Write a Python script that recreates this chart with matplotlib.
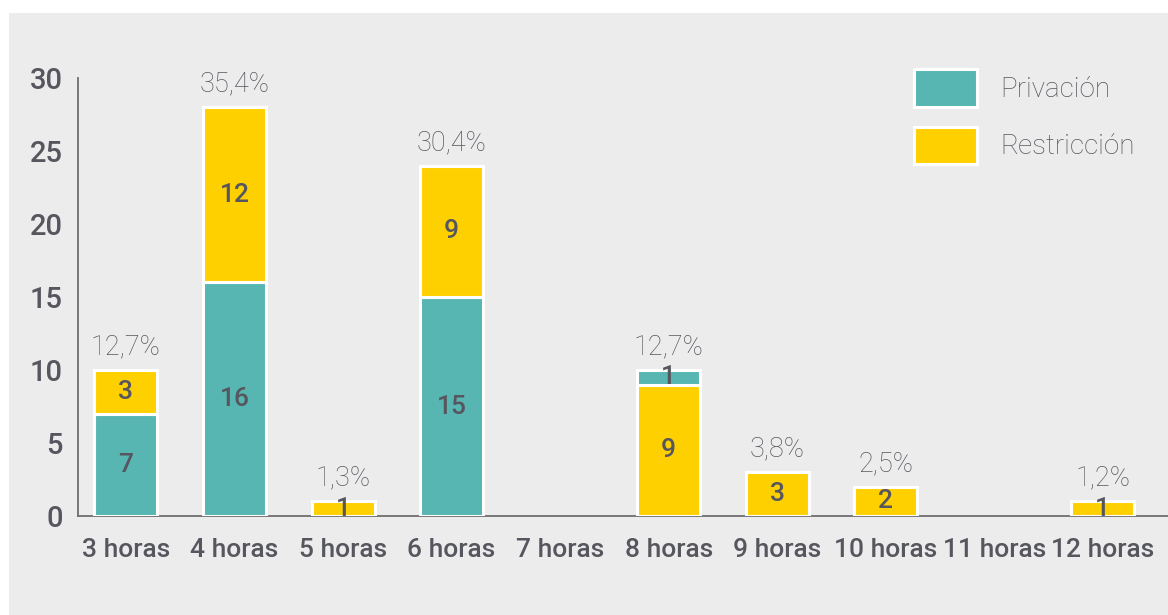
import matplotlib
matplotlib.use("Agg")
import matplotlib.pyplot as plt
from matplotlib.patches import Rectangle, Patch
import numpy as np

categorias = ['3 horas', '4 horas', '5 horas', '6 horas', '7 horas',
              '8 horas', '9 horas', '10 horas', '11 horas', '12 horas']
privacion = [7, 16, 0, 15, 0, 1, 0, 0, 0, 0]
restriccion = [3, 12, 1, 9, 0, 9, 3, 2, 0, 1]
porcentajes = ['12,7%', '35,4%', '1,3%', '30,4%', '', '12,7%', '3,8%', '2,5%', '', '1,2%']
# orden de apilado: True si Restricción va abajo
restriccion_abajo = [False, False, False, False, False, True, False, False, False, False]
yticks = [0, 5, 10, 15, 20, 25, 30]

C_PRIV = '#57B6B1'
C_REST = '#FFD000'
C_TXT = '#56565E'
BG = '#ECECEC'

plt.rcParams['font.family'] = ['Roboto', 'DejaVu Sans']

fig = plt.figure(figsize=(11.68, 6.15), dpi=100)
fig.patch.set_facecolor('white')
fig.add_artist(Rectangle((9/1168, 0), 1 - 9/1168, 1 - 13/615,
                         transform=fig.transFigure, facecolor=BG, edgecolor='none', zorder=0))

ax = fig.add_axes([78/1168, 1 - 516/615, 1 - 78/1168, (516 - 78)/615])
ax.set_facecolor('none')

x = np.arange(len(categorias))
w = 0.58
for i in range(len(categorias)):
    if restriccion_abajo[i]:
        segs = [(restriccion[i], C_REST), (privacion[i], C_PRIV)]
    else:
        segs = [(privacion[i], C_PRIV), (restriccion[i], C_REST)]
    base = 0
    for val, col in segs:
        if val > 0:
            ax.bar(x[i], val, w, bottom=base, color=col, edgecolor='white', linewidth=2.2, zorder=3)
            ax.text(x[i], base + val / 2, str(val), ha='center', va='center',
                    fontsize=19, fontweight='medium', color=C_TXT, zorder=5)
            base += val
    if porcentajes[i]:
        ax.annotate(porcentajes[i], (x[i], base), xytext=(0, 7), textcoords='offset points',
                    ha='center', va='bottom', fontsize=19.5, fontweight='light', color=C_TXT, zorder=5)

ax.set_xlim(-0.442, 9.6)
ax.set_ylim(0, 30)
ax.set_yticks(yticks)
ax.set_yticklabels([str(t) for t in yticks], fontsize=21, fontweight='medium', color=C_TXT)
ax.set_xticks(x)
ax.set_xticklabels(categorias, fontsize=19, fontweight='medium', color=C_TXT)
ax.tick_params(axis='y', length=0, pad=11)
ax.tick_params(axis='x', length=0, pad=15.5)
for s in ['top', 'right']:
    ax.spines[s].set_visible(False)
for s in ['left', 'bottom']:
    ax.spines[s].set_color('#6E6E72')
    ax.spines[s].set_linewidth(1.3)

handles = [Patch(facecolor=C_PRIV, edgecolor='white', linewidth=2.2, label='Privación'),
           Patch(facecolor=C_REST, edgecolor='white', linewidth=2.2, label='Restricción')]
leg = fig.legend(handles=handles, loc='upper left', bbox_to_anchor=(914/1168, 1 - 69/615),
                 frameon=False, prop={'size': 20, 'weight': 'light'},
                 handlelength=2.25, handleheight=1.7, handletextpad=0.85, labelspacing=0.72,
                 borderpad=0, borderaxespad=0)
for t in leg.get_texts():
    t.set_color(C_TXT)

fig.savefig('out.png', dpi=100, facecolor='white')
